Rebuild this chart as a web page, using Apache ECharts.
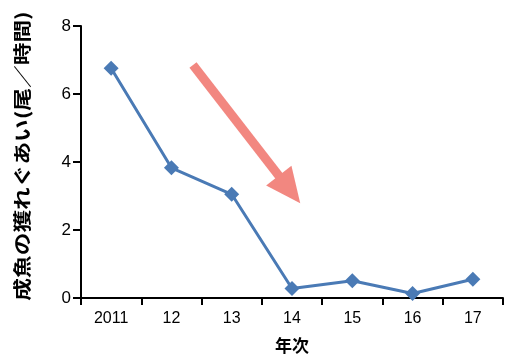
<!DOCTYPE html>
<html>
<head>
<meta charset="utf-8">
<style>
  html, body { margin: 0; padding: 0; background: #fff; }
  #chart { width: 505px; height: 362px; }
</style>
<script src="https://cdn.jsdelivr.net/npm/echarts@6/dist/echarts.min.js"></script>
</head>
<body>
<div id="chart"></div>
<script>
// Catch rate of adult fish per year
const years = ['2011', '12', '13', '14', '15', '16', '17'];
const catchRate = [6.76, 3.83, 3.05, 0.28, 0.51, 0.13, 0.55];
const yTicks = [0, 2, 4, 6, 8];

const yName = '成魚の獲れぐあい(尾／時間)';
const xName = '年次';

const chart = echarts.init(document.getElementById('chart'), null, { renderer: 'canvas' });

const font = '"Liberation Sans", Arial, sans-serif';
const jpFont = '"Noto Sans CJK JP", sans-serif';

chart.setOption({
  animation: false,
  backgroundColor: '#ffffff',
  grid: { left: 81, right: 2, top: 26, bottom: 64 },
  xAxis: {
    type: 'category',
    data: years,
    boundaryGap: true,
    axisLine: { lineStyle: { color: '#000', width: 2 } },
    axisTick: { show: true, interval: 0, alignWithLabel: false, length: 7, lineStyle: { color: '#000', width: 2 } },
    axisLabel: { color: '#000', fontSize: 16, fontFamily: font, margin: 13 },
    name: xName,
    nameLocation: 'middle',
    nameGap: 39,
    nameTextStyle: { color: '#000', fontSize: 17, fontWeight: 'bold', fontFamily: jpFont }
  },
  yAxis: {
    type: 'value',
    min: yTicks[0],
    max: yTicks[yTicks.length - 1],
    interval: 2,
    splitLine: { show: false },
    axisLine: { show: true, lineStyle: { color: '#000', width: 2 } },
    axisTick: { show: true, length: 8, lineStyle: { color: '#000', width: 2 } },
    axisLabel: { color: '#000', fontSize: 17, fontFamily: font, margin: 10 }
  },
  series: [{
    type: 'line',
    data: catchRate,
    symbol: 'diamond',
    symbolSize: 15,
    lineStyle: { color: '#4a7ab5', width: 3 },
    itemStyle: { color: '#4a7ab5' }
  }],
  graphic: [
    // vertical y-axis title, stretched along its reading direction
    {
      type: 'text',
      x: 22, y: 156,
      rotation: Math.PI / 2,
      scaleX: 1.26,
      style: {
        text: yName,
        fill: '#000',
        font: 'bold 18px "Noto Sans CJK JP", sans-serif',
        align: 'center',
        verticalAlign: 'middle'
      }
    },
    // downward trend arrow
    {
      type: 'group',
      x: 193, y: 65,
      rotation: -Math.atan2(203 - 65, 300 - 193),
      children: [
        { type: 'rect', shape: { x: 0, y: -4.5, width: 142, height: 9 }, style: { fill: '#f28780' } },
        { type: 'polygon', shape: { points: [[140, -16], [175, 0], [140, 16]] }, style: { fill: '#f28780' } }
      ]
    }
  ]
});
</script>
</body>
</html>
